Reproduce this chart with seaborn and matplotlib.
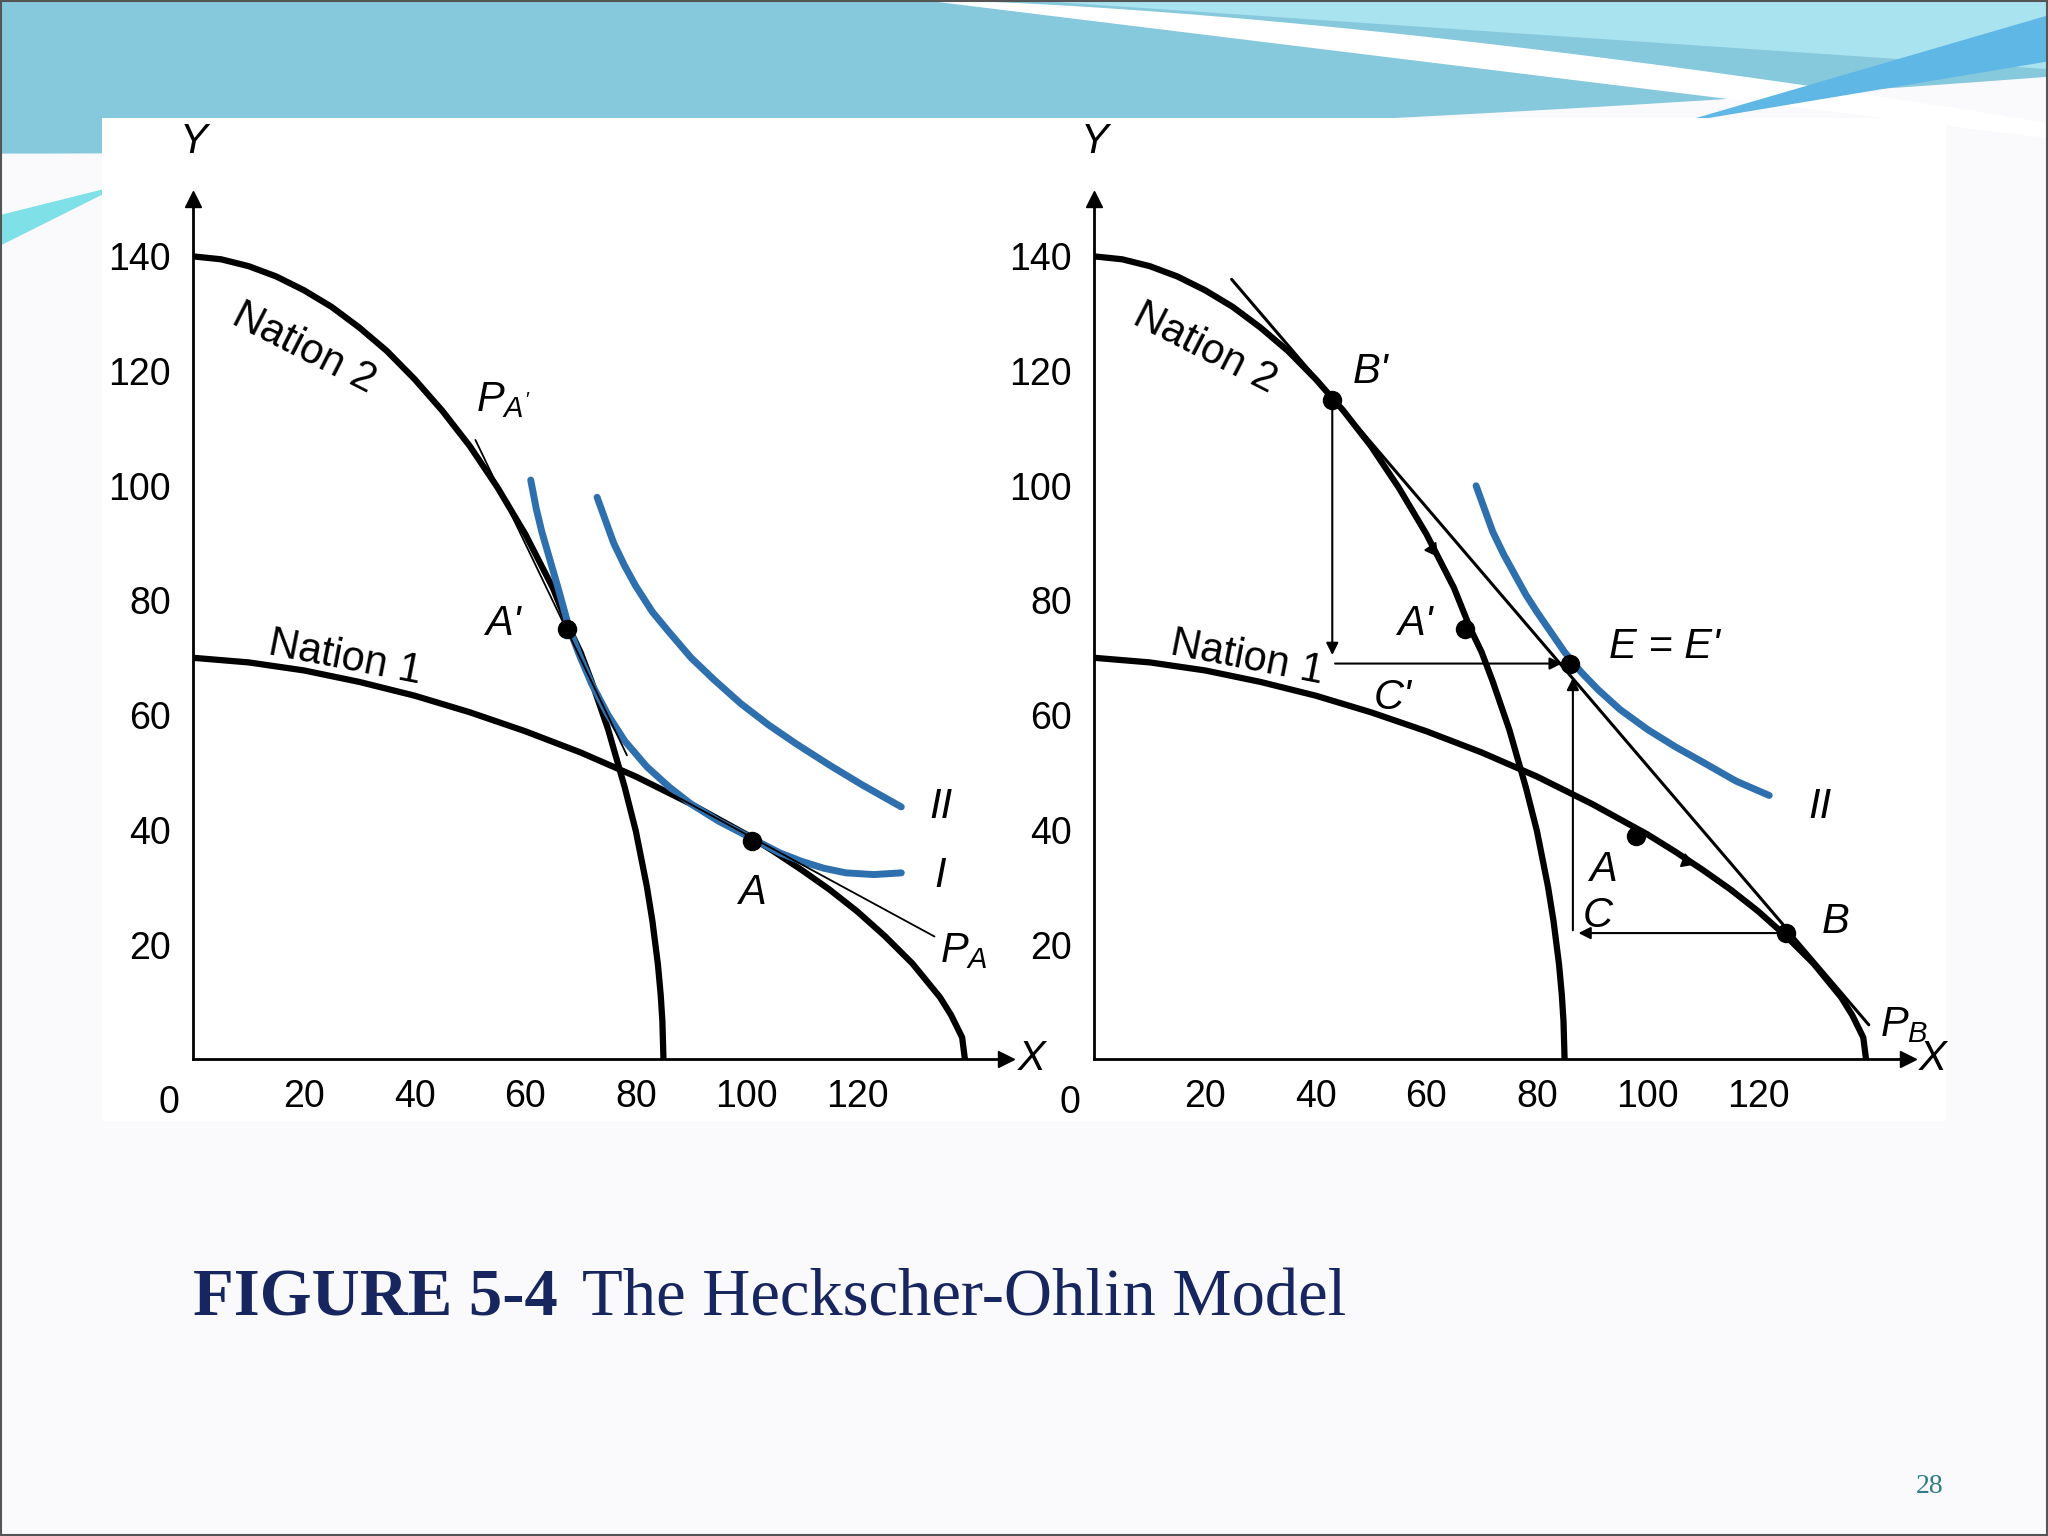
import numpy as np
import pandas as pd
import matplotlib.pyplot as plt
from matplotlib.patches import Polygon
import seaborn as sns

# ---- curve points ----
nation2_x = [0, 5, 10, 15, 20, 25, 30, 35, 40, 45, 50, 55, 60, 65, 68, 70, 72, 75, 78, 80, 82, 83, 84, 84.5, 84.8, 85]
nation2_y = [140, 139.5, 138.3, 136.5, 134.1, 131.2, 127.6, 123.5, 118.6, 113.1, 106.9, 99.7, 91.6, 82.2, 75,
             71.0, 65.9, 57.5, 47.4, 39.8, 30.1, 24.1, 16.5, 11.2, 6.7, 0]
nation1_x = [0, 10, 20, 30, 40, 50, 60, 70, 80, 90, 100, 105, 110, 115, 120, 125, 130, 135, 137, 139, 139.5]
nation1_y = [70, 69.2, 67.8, 65.8, 63.4, 60.5, 57.2, 53.5, 49.3, 44.5, 39.2, 36.2, 33.0, 29.6, 25.8, 21.5,
             16.7, 10.8, 7.7, 3.8, 0]

left_I_x = [61, 62, 63, 64.5, 66, 68, 70, 72, 75, 78, 82, 86, 90, 95, 102, 106, 110, 114, 118, 123, 128]
left_I_y = [101, 96, 92, 87, 82, 75, 70, 65.5, 60, 55.5, 51, 47.5, 44.5, 41.5, 38, 36, 34.5, 33.3, 32.5, 32.2, 32.5]
left_II_x = [73, 74.5, 76, 78, 80, 83, 86, 90, 94, 99, 104, 109, 115, 121, 128]
left_II_y = [98, 94, 90, 86, 82.5, 78, 74.5, 70, 66.3, 62, 58.3, 55, 51.3, 47.8, 44]
right_II_x = [69, 70.5, 72, 74, 76, 78, 80, 82.5, 85, 88, 91, 95, 100, 105, 110, 116, 122]
right_II_y = [100, 96, 92, 88, 84.5, 81, 78, 74.5, 71, 67.5, 64.5, 61, 57.5, 54.5, 51.8, 48.5, 46]

pa_prime_x, pa_prime_y = [51, 78.4], [108, 53]
pa_x, pa_y = [82.4, 134], [48.4, 21.4]
pb_x, pb_y = [24.8, 140], [136, 6]

left_pts = {"A'": (67.5, 75), "A": (101, 38)}
right_pts = {"B'": (43, 115), "A'": (67, 75), "E": (86, 69), "A": (98, 39), "B": (125, 22)}

ticks = [20, 40, 60, 80, 100, 120]
yticks = [20, 40, 60, 80, 100, 120, 140]

sns.set_style("white")
plt.rcParams['font.family'] = ['Liberation Sans', 'DejaVu Sans']
plt.rcParams['text.color'] = 'black'
plt.rcParams['mathtext.fontset'] = 'custom'
plt.rcParams['mathtext.it'] = 'Liberation Sans:italic'
plt.rcParams['mathtext.rm'] = 'Liberation Sans'

FS = 30

fig = plt.figure(figsize=(20.48, 15.36), dpi=100)
fig.patch.set_facecolor('#fafafc')

# slide decoration at top
bg = fig.add_axes([0, 0, 1, 1], zorder=-5)
bg.set_xlim(0, 1); bg.set_ylim(0, 1); bg.axis('off')
xs = np.linspace(0, 1, 80)
bg.add_patch(Polygon(np.column_stack([np.r_[xs, 1, 0], np.r_[0.90 + 0.05 * xs ** 2, 1, 1]]),
                     color='#86c8dc', lw=0))
bg.add_patch(Polygon(np.column_stack([np.r_[xs * 0.55 + 0.45], np.r_[1 - 0.08 * ((xs) ** 1.5)]]).tolist()
                     + [[1, 0.91], [0.45, 1]], color='#ffffff', lw=0))
bg.add_patch(Polygon(np.column_stack([xs * 0.5 + 0.5, 1 - 0.045 * xs]).tolist() + [[1, 1]],
                     color='#a9e3f0', lw=0))
bg.add_patch(Polygon([[0.82, 0.92], [1, 0.99], [1, 0.96]], color='#5fb7e6', lw=0))
bg.add_patch(Polygon([[0, 0.86], [0.06, 0.88], [0, 0.84]], color='#7fe0e8', lw=0))
bg.add_patch(Polygon([[0.05, 0.27], [0.95, 0.27], [0.95, 0.923], [0.05, 0.923]], color='white', lw=0))
bg.add_patch(Polygon([[0.0005, 0.0005], [0.9995, 0.0005], [0.9995, 0.9995], [0.0005, 0.9995]],
                     fill=False, ec='#555', lw=1.5))


def line(ax, x, y, color='black', lw=4.5):
    df = pd.DataFrame({'x': x, 'y': y})
    sns.lineplot(data=df, x='x', y='y', ax=ax, sort=False, estimator=None, color=color, lw=lw)


def setup(ax):
    ax.set_xlim(0, 147); ax.set_ylim(0, 150)
    for s in ['top', 'right']:
        ax.spines[s].set_visible(False)
    for s in ['left', 'bottom']:
        ax.spines[s].set_linewidth(2)
        ax.spines[s].set_color('black')
    ax.set_xticks(ticks); ax.set_yticks(yticks)
    ax.tick_params(direction='in', length=16, width=2, labelsize=27, colors='black')
    ax.tick_params(axis='x', pad=14)
    ax.tick_params(axis='y', pad=16)
    ax.set_xlabel(''); ax.set_ylabel('')
    ax.set_facecolor('none')
    ax.plot(1, 0, '>k', ms=12, transform=ax.transAxes, clip_on=False)
    ax.plot(0, 1, '^k', ms=12, transform=ax.transAxes, clip_on=False)
    ax.text(-2.5, -4.5, '0', fontsize=27, ha='right', va='top')
    ax.text(149, 0, 'X', fontsize=FS, style='italic', va='center')
    ax.text(0, 160, 'Y', fontsize=FS, style='italic', ha='center', va='center')
    ax.text(20, 124, 'Nation 2', fontsize=FS, rotation=-27, ha='center', va='center')
    ax.text(27.5, 70, 'Nation 1', fontsize=FS, rotation=-11, ha='center', va='center')


axL = fig.add_axes([0.0944, 0.3104, 0.397, 0.56])
axR = fig.add_axes([0.5344, 0.3104, 0.397, 0.56])
blue = '#2e6fad'

# left panel
line(axL, nation2_x, nation2_y)
line(axL, nation1_x, nation1_y)
line(axL, left_I_x, left_I_y, blue, 5)
line(axL, left_II_x, left_II_y, blue, 5)
line(axL, pa_prime_x, pa_prime_y, lw=1.3)
line(axL, pa_x, pa_y, lw=1.3)
for k, (x, y) in left_pts.items():
    axL.plot(x, y, 'ko', ms=13)
setup(axL)
axL.text(56, 113, r"$P_{A'}$", fontsize=FS, ha='center')
axL.text(56, 74, "A'", fontsize=FS, style='italic', ha='center')
axL.text(101, 27, "A", fontsize=FS, style='italic', ha='center')
axL.text(135, 17, r"$P_A$", fontsize=FS)
axL.text(133, 42, "II", fontsize=FS, style='italic')
axL.text(134, 30, "I", fontsize=FS, style='italic')

# right panel
line(axR, nation2_x, nation2_y)
line(axR, nation1_x, nation1_y)
line(axR, right_II_x, right_II_y, blue, 5)
line(axR, pb_x, pb_y, lw=2.2)
for k, (x, y) in right_pts.items():
    axR.plot(x, y, 'ko', ms=13)
arrow = dict(arrowstyle='-|>', color='black', lw=1.5, mutation_scale=18)
axR.annotate('', xy=(43, 70), xytext=(43, 114), arrowprops=arrow)
axR.annotate('', xy=(85, 69), xytext=(43, 69), arrowprops=arrow)
axR.annotate('', xy=(86.5, 67), xytext=(86.5, 22), arrowprops=arrow)
axR.annotate('', xy=(87, 22), xytext=(125, 22), arrowprops=arrow)
axR.plot(61, 89, marker=(3, 0, -25), color='black', ms=11)
axR.plot(107, 34.5, marker=(3, 0, -110), color='black', ms=11)
setup(axR)
axR.text(50, 118, "B'", fontsize=FS, style='italic', ha='center')
axR.text(58, 74, "A'", fontsize=FS, style='italic', ha='center')
axR.text(54, 61, "C'", fontsize=FS, style='italic', ha='center')
axR.text(103, 70, "E = E'", fontsize=FS, style='italic', ha='center')
axR.text(92, 31, "A", fontsize=FS, style='italic', ha='center')
axR.text(91, 23, "C", fontsize=FS, style='italic', ha='center')
axR.text(134, 22, "B", fontsize=FS, style='italic', ha='center')
axR.text(129, 42, "II", fontsize=FS, style='italic')
axR.text(142, 4, r"$P_B$", fontsize=FS)

serif = ['Liberation Serif', 'DejaVu Serif']
fig.text(0.094, 0.154, "FIGURE 5-4", fontsize=48, fontweight='bold', color='#17265e',
         family=serif, va='center')
fig.text(0.284, 0.154, "The Heckscher-Ohlin Model", fontsize=48, color='#17265e',
         family=serif, va='center')
fig.text(0.949, 0.028, "28", fontsize=20, color='#2d7b86', family=serif, ha='right')

fig.savefig('out.png', dpi=100)
